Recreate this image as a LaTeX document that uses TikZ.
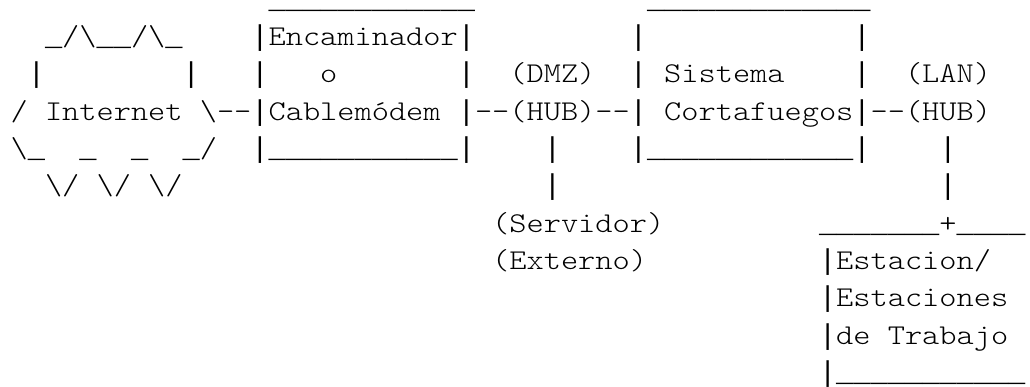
\documentclass[tikz,border=0pt]{standalone}
\usepackage{fontspec}
% light serif typewriter face, widened so one cell is 17.2pt
\newfontfamily\asciifont[FakeStretch=1.1428]{Latin Modern Mono Light}
% rules (_ and |) from a face whose underscores join up
\newfontfamily\barfont{Liberation Mono}
\tikzset{
  ascii/.style={font=\asciifont\fontsize{28.67}{34}\selectfont,
    anchor=base west, inner sep=0pt, outer sep=0pt, text=black},
}
% \asciirun{name}{column}{row}{text}: cells 17.2pt wide, rows 37.3pt apart
\newcommand\asciirun[4]{\node[ascii] (#1) at ({10.6+17.2*(#2)},{29-37.3*(#3)}) {#4};}
\newcommand\bs{\textbackslash}
\newcommand\us{{\barfont\_}}
\newcommand\vb{{\barfont|}}
\ExplSyntaxOn
\cs_new:Npn \usrun #1 { \prg_replicate:nn {#1} { \us } }
\ExplSyntaxOff
\begin{document}
\begin{tikzpicture}[x=1pt,y=1pt]
\useasboundingbox (0,0) rectangle (1030,-386);
% row 1: box tops
\asciirun{routertop}{15}{1}{\usrun{12}}
\asciirun{fwtop}{37}{1}{\usrun{13}}
% row 2
\asciirun{cloudtop}{2}{2}{\us/\bs\us\us/\bs\us}
\asciirun{router}{14}{2}{\vb Encaminador\vb}
\asciirun{fwleftA}{36}{2}{\vb}
\asciirun{fwrightA}{49}{2}{\vb}
% row 3
\asciirun{cloudleftA}{1}{3}{\vb}
\asciirun{cloudrightA}{10}{3}{\vb}
\asciirun{routerleftB}{14}{3}{\vb}
\asciirun{routeror}{18}{3}{o}
\asciirun{routerrightB}{26}{3}{\vb}
\asciirun{dmz}{29}{3}{(DMZ)}
\asciirun{fwleftB}{36}{3}{\vb}
\asciirun{sistema}{38}{3}{Sistema}
\asciirun{fwrightB}{49}{3}{\vb}
\asciirun{lan}{52}{3}{(LAN)}
% row 4
\asciirun{cloudleftB}{0}{4}{/}
\asciirun{internet}{2}{4}{Internet}
\asciirun{cablemodem}{11}{4}{\bs-{}-\vb Cablemódem}
\asciirun{dmzhub}{26}{4}{\vb-{}-(HUB)-{}-\vb}
\asciirun{cortafuegos}{38}{4}{Cortafuegos\vb-{}-(HUB)}
% row 5
\asciirun{cloudbotA}{0}{5}{\bs\us}
\asciirun{cloudbotB}{4}{5}{\us}
\asciirun{cloudbotC}{7}{5}{\us}
\asciirun{cloudbotD}{10}{5}{\us/}
\asciirun{routerbot}{14}{5}{\vb\usrun{11}\vb}
\asciirun{dmzlineA}{31}{5}{\vb}
\asciirun{fwbot}{36}{5}{\vb\usrun{12}\vb}
\asciirun{lanlineA}{54}{5}{\vb}
% row 6
\asciirun{cloudtailA}{2}{6}{\bs/}
\asciirun{cloudtailB}{5}{6}{\bs/}
\asciirun{cloudtailC}{8}{6}{\bs/}
\asciirun{dmzlineB}{31}{6}{\vb}
\asciirun{lanlineB}{54}{6}{\vb}
% row 7
\asciirun{servidor}{28}{7}{(Servidor)}
\asciirun{wstop}{47}{7}{\usrun{7}+\usrun{4}}
% rows 8-11
\asciirun{externo}{28}{8}{(Externo)}
\asciirun{estacion}{47}{8}{\vb Estacion/}
\asciirun{estaciones}{47}{9}{\vb Estaciones}
\asciirun{dede}{47}{10}{\vb de}
\asciirun{trabajo}{51}{10}{Trabajo}
\asciirun{wsbot}{47}{11}{\vb\usrun{11}}
\end{tikzpicture}
\end{document}
